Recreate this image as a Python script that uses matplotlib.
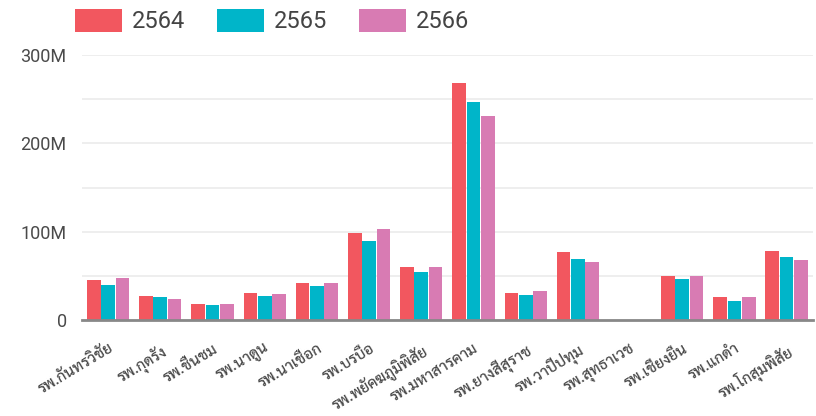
import matplotlib
matplotlib.use("Agg")
import matplotlib.pyplot as plt
import numpy as np

# Hospital budget by fiscal year (million baht)
hospitals = ["รพ.กันทรวิชัย", "รพ.กุดรัง", "รพ.ชื่นชม", "รพ.นาดูน", "รพ.นาเชือก",
             "รพ.บรบือ", "รพ.พยัคฆภูมิพิสัย", "รพ.มหาสารคาม", "รพ.ยางสีสุราช",
             "รพ.วาปีปทุม", "รพ.สุทธาเวช", "รพ.เชียงยืน", "รพ.แกดำ", "รพ.โกสุมพิสัย"]
years = ["2564", "2565", "2566"]
y2564 = [46, 27.5, 19, 31.5, 42, 99, 60, 268, 31, 77, np.nan, 50, 26, 79]
y2565 = [40.5, 26, 17, 28, 38.5, 90, 55, 247, 29, 70, np.nan, 47, 22.5, 72]
y2566 = [47.5, 24.5, 19, 29.5, 42, 103, 61, 231, 33, 66.5, np.nan, 50.5, 26, 68.5]
yticks = [0, 100, 200, 300]
ytick_labels = ["0", "100M", "200M", "300M"]

colors = ["#F2575F", "#00B5C9", "#D87BB3"]
series = [y2564, y2565, y2566]

fig = plt.figure(figsize=(8.16, 4.16), dpi=100)
ax = fig.add_axes([0.1005, 0.2296, 0.8955, 0.6382])

x = np.arange(len(hospitals))
bw = 0.262
for i, (vals, c, lab) in enumerate(zip(series, colors, years)):
    ax.bar(x + (i - 1) * (bw + 0.012), vals, width=bw, color=c, label=lab, zorder=3)

ax.set_xlim(-0.5, len(hospitals) - 0.5)
ax.set_ylim(0, 300)
ax.set_yticks(yticks)
ax.set_yticklabels(ytick_labels)
ax.set_yticks([50, 150, 250], minor=True)
ax.grid(axis="y", which="both", color="#EBEBEB", linewidth=1.2, zorder=0)
ax.tick_params(axis="y", which="both", length=0, pad=11, labelsize=13, labelcolor="#4A4A4A")
for lbl in ax.get_yticklabels():
    lbl.set_fontfamily("Roboto")

ax.set_xticks(x)
ax.set_xticklabels(hospitals, rotation=31, ha="right", rotation_mode="anchor",
                   family=["Sarabun", "Roboto"], fontsize=11, fontweight="medium",
                   color="#484848")
ax.tick_params(axis="x", length=0, pad=15)

for s in ["top", "right", "left"]:
    ax.spines[s].set_visible(False)
ax.spines["bottom"].set_color("#888888")
ax.spines["bottom"].set_linewidth(2)
ax.spines["bottom"].set_zorder(4)

leg = fig.legend(loc="upper left", bbox_to_anchor=(0.066, 1.03), ncol=3, frameon=False,
                 prop={"family": "Roboto", "size": 17}, handlelength=2.0, handleheight=1.15,
                 handletextpad=0.4, columnspacing=1.35)
for t in leg.get_texts():
    t.set_color("#444444")

fig.savefig("out.png", dpi=100)
